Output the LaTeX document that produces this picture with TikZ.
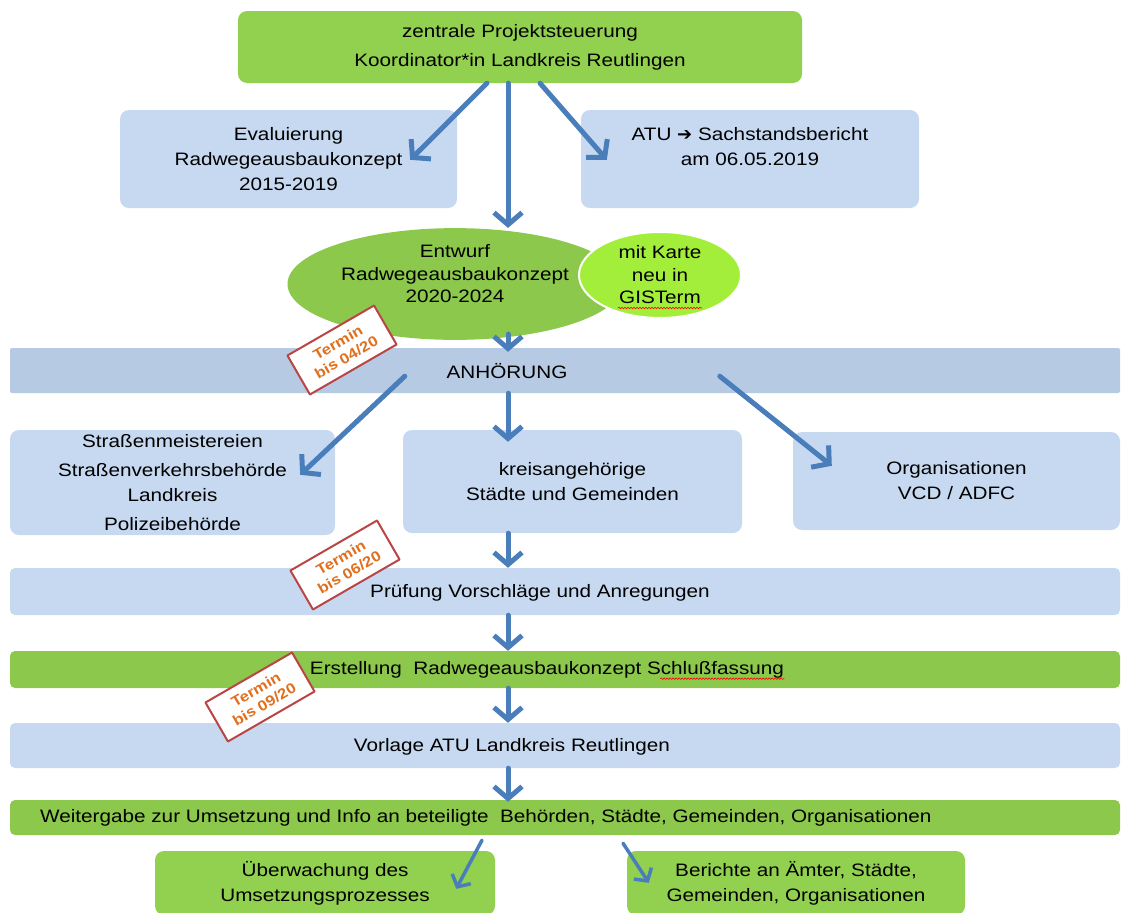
\documentclass[tikz,border=0pt]{standalone}
\usepackage{fontspec}
\setmainfont{Liberation Sans}[FakeStretch=1.15]
\newfontfamily\symfont{DejaVu Sans}
\usetikzlibrary{arrows.meta,shapes.geometric,decorations.pathmorphing}
\definecolor{kgreen}{HTML}{92D050}
\definecolor{kgreenb}{HTML}{8CC84B}
\definecolor{klime}{HTML}{A2EE3A}
\definecolor{kblue}{HTML}{C6D9F1}
\definecolor{kband}{HTML}{B6CAE4}
\definecolor{karrow}{HTML}{4A7EBB}
\definecolor{kred}{HTML}{B94545}
\definecolor{korange}{HTML}{E0701E}
\begin{document}
\begin{tikzpicture}[x=1pt,y=-1pt,line join=round,line cap=round,
  font=\fontsize{18}{25}\selectfont,
  box/.style={rounded corners=9pt,inner sep=0pt,align=center},
  bbox/.style={box,fill=kblue},
  gbox/.style={box,fill=kgreen},
  band/.style={rounded corners=5pt,inner sep=0pt,minimum width=1110pt},
  txt/.style={inner sep=0pt},
  arr/.style={draw=karrow,line width=5pt,-{Straight Barb[length=12pt,width=28pt]}},
  sarr/.style={draw=karrow,line width=3.5pt,-{Straight Barb[length=9pt,width=21pt]}},
  stamp/.style={draw=kred,line width=2pt,fill=white,rotate=30,minimum width=100pt,
    minimum height=45pt,inner sep=0pt,align=center,text=korange,
    font=\fontsize{14.5}{17}\selectfont\bfseries},
  wavy/.style={draw=red,line width=0.6pt,decorate,
    decoration={snake,amplitude=0.8pt,segment length=3pt}}]
\useasboundingbox (0,0) rectangle (1130,913);
% Kopf
\node[gbox,minimum width=564pt,minimum height=72pt] (top) at (520,47)
  {zentrale Projektsteuerung\\[4pt] Koordinator*in Landkreis Reutlingen};
\node[bbox,minimum width=337pt,minimum height=98pt] (eval) at (288.5,159)
  {Evaluierung\\ Radwegeausbaukonzept\\ 2015-2019};
\node[bbox,minimum width=338pt,minimum height=98pt] (atu) at (750,159)
  {ATU {\symfont\bfseries ➔} Sachstandsbericht\\ am 06.05.2019\\ \mbox{}};
% Entwurf
\node[ellipse,fill=kgreenb,minimum width=335pt,minimum height=80pt,inner sep=0pt,align=center] (ent) at (455,284)
  {Entwurf\\[-2.5pt] Radwegeausbaukonzept\\[-2.5pt] 2020-2024\\[-4pt]\mbox{}};
\node[ellipse,fill=klime,draw=white,line width=2pt,minimum width=162pt,minimum height=86pt,inner sep=0pt,align=center] (gis) at (660,275)
  {mit Karte\\[-2.5pt] neu in\\[-2.5pt] GISTerm};
\draw[wavy] ([xshift=-42pt,yshift=-33pt]gis.center) -- ([xshift=42pt,yshift=-33pt]gis.center);
% Anhoerung
\node[band,fill=kband,minimum height=45pt,rounded corners=2pt] (anh) at (565,370.5) {};
\node[txt] (anhtxt) at (507,371) {ANHÖRUNG};
\node[bbox,minimum width=325pt,minimum height=105pt] (str) at (172.5,482.5)
  {Straßenmeistereien\\[4pt] Straßenverkehrsbehörde\\ Landkreis\\[4pt] Polizeibehörde};
\node[bbox,minimum width=339pt,minimum height=103pt] (mid) at (572.5,481.5)
  {kreisangehörige\\ Städte und Gemeinden};
\node[bbox,minimum width=327pt,minimum height=98pt] (org) at (956.5,481)
  {Organisationen\\ VCD / ADFC};
% Ablauf
\node[band,fill=kblue,minimum height=47pt] (prf) at (565,591.5) {};
\node[txt] (prftxt) at (540,593) {Prüfung Vorschläge und Anregungen};
\node[band,fill=kgreenb,minimum height=37pt] (erst) at (565,669.5) {};
\node[txt] (ersttxt) at (547,670) {Erstellung\ \ Radwegeausbaukonzept Schlußfassung};
\draw[wavy] ([xshift=-124pt,yshift=-4pt]ersttxt.base east) -- ([yshift=-4pt]ersttxt.base east);
\node[band,fill=kblue,minimum height=45pt] (vorl) at (565,745.5) {};
\node[txt] (vorltxt) at (512,747) {Vorlage ATU Landkreis Reutlingen};
\node[band,fill=kgreenb,minimum height=35pt] (weit) at (565,817.5) {};
\node[txt,anchor=west] (weittxt) at (40,818)
  {Weitergabe zur Umsetzung und Info an beteiligte\ \ Behörden, Städte, Gemeinden, Organisationen};
\node[gbox,minimum width=340pt,minimum height=64pt] (mon) at (325,883)
  {Überwachung des\\ Umsetzungsprozesses};
\node[gbox,minimum width=338pt,minimum height=64pt] (rep) at (796,883)
  {Berichte an Ämter, Städte,\\ Gemeinden, Organisationen};
% Termine
\node[stamp] (t1) at (342,350) {Termin\\ bis 04/20};
\node[stamp] (t2) at (345,565) {Termin\\ bis 06/20};
\node[stamp] (t3) at (260,697) {Termin\\ bis 09/20};
% Pfeile
\coordinate (col) at (508,0);
\draw[arr] ([xshift=-33pt]top.south) -- ([xshift=-47pt,yshift=-50pt]eval.north east);
\draw[arr] (top.south -| col) -- (ent.north -| col);
\draw[arr] ([xshift=20pt]top.south) -- ([xshift=26pt,yshift=-50pt]atu.north west);
\draw[arr] ([yshift=6pt]ent.south -| col) -- ([yshift=-4pt]anh.north -| col);
\draw[arr] ([xshift=395pt,yshift=17pt]anh.south west) -- ([xshift=-35pt,yshift=-45pt]str.north east);
\draw[arr] (anh.south -| col) -- ([yshift=-12pt]mid.north -| col);
\draw[arr] ([xshift=710pt,yshift=17pt]anh.south west) -- ([xshift=39pt,yshift=-34pt]org.north west);
\draw[arr] (mid.south -| col) -- (prf.north -| col);
\draw[arr] (prf.south -| col) -- (erst.north -| col);
\draw[arr] (erst.south -| col) -- (vorl.north -| col);
\draw[arr] (vorl.south -| col) -- ([yshift=-2pt]weit.north -| col);
\draw[sarr] ([xshift=-83pt,yshift=-5pt]weit.south) -- ([xshift=-39pt,yshift=-38pt]mon.north east);
\draw[sarr] ([xshift=58pt,yshift=-8pt]weit.south) -- ([xshift=22pt,yshift=-32pt]rep.north west);
\end{tikzpicture}
\end{document}
